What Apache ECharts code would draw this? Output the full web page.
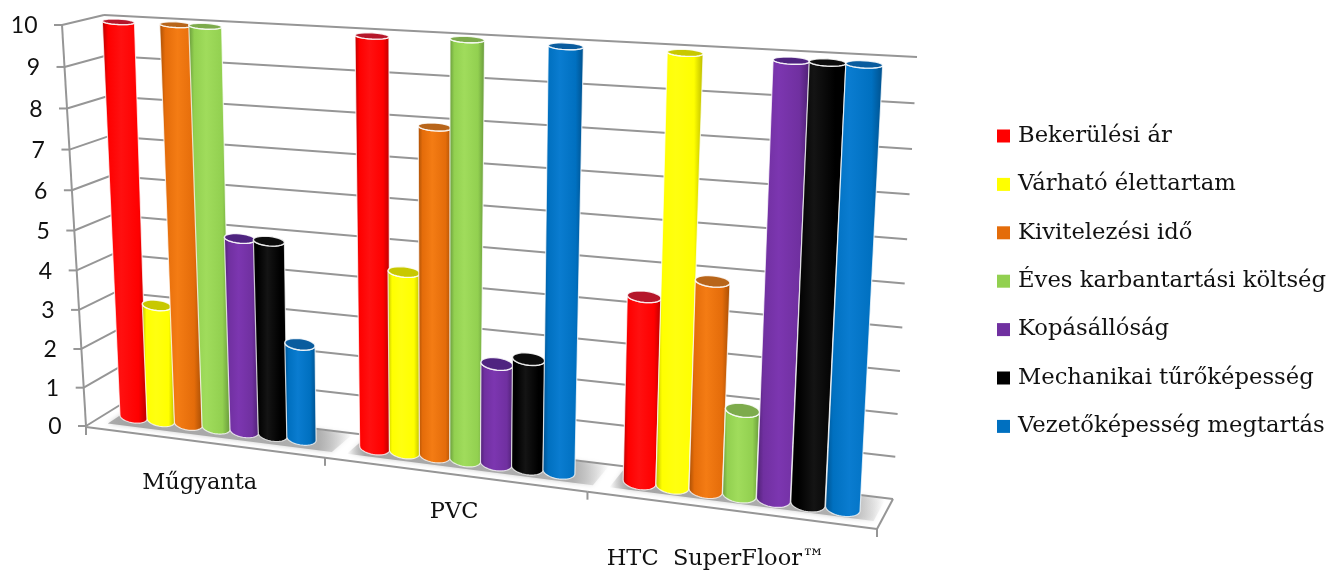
<!DOCTYPE html>
<html><head><meta charset="utf-8">
<style>html,body{margin:0;padding:0;background:#fff}#c{width:1330px;height:572px}</style>
<script src="https://cdn.jsdelivr.net/npm/echarts@6/dist/echarts.min.js"></script>
</head><body><div id="c"></div>
<script>
const categories = ['Műgyanta', 'PVC', 'HTC  SuperFloor™'];
const yTicks = [0,1,2,3,4,5,6,7,8,9,10];
const seriesNames = ['Bekerülési ár','Várható élettartam','Kivitelezési idő','Éves karbantartási költség','Kopásállóság','Mechanikai tűrőképesség','Vezetőképesség megtartás'];
const bekerulesi = [10, 9.97, 4.4];
const varhato = [3, 4.45, 9.95];
const kivitelezesi = [10, 7.95, 4.9];
const eves = [10, 10, 2];
const kopas = [4.9, 2.45, 9.9];
const mechanikai = [4.9, 2.65, 9.9];
const vezeto = [2.4, 9.96, 9.9];
const seriesValues = [bekerulesi, varhato, kivitelezesi, eves, kopas, mechanikai, vezeto];
const colors = ['#ff0000','#ffff00','#e46c0a','#92d050','#7030a0','#000000','#0070c0'];
const edgeColors = ['#b30000','#b8b800','#a34c05','#64943a','#4c1f70','#000000','#004f8a'];
const lightColors = ['#ff1010','#ffff10','#f47c14','#a0dc5c','#7c36b0','#141414','#0a7cd0'];
const capColors = ['#b5162a','#c8c800','#b8651a','#7dab4c','#4f2480','#0c0c0c','#0a5c9e'];

// perspective frame (projection constants)
const K_U = 0.134, K_W = 0.049;
const warpU = t => t*(1-K_U)/(1-K_U*t);
const warpW = w => w*(1-K_W)/(1-K_W*w);
function bil(q, a, b){
  const x = (1-b)*((1-a)*q[0][0]+a*q[1][0]) + b*((1-a)*q[3][0]+a*q[2][0]);
  const y = (1-b)*((1-a)*q[0][1]+a*q[1][1]) + b*((1-a)*q[3][1]+a*q[2][1]);
  return [x,y];
}
const planeQ = [[100,412.5],[887,514],[911,62],[83,20]];
const backQ  = [[120,405],[893,499],[917,57],[104,15]];
const sideQ  = [[86,426],[120,405],[104,15],[62,25]];
const floorQ = [[86,427],[877,529],[893,499],[120,405]];
const plane = (t,w) => bil(planeQ, warpU(t), warpW(w));
const back  = (a,w) => bil(backQ, a, warpW(w));
const side  = (d,w) => bil(sideQ, d, warpW(w));
const floorP = (t,d) => bil(floorQ, warpU(t), d);

const GRID = {left:100, top:20, width:787, height:400};
const GAP_HALF = 0.75, SLOTS = 8.5;
const GRAY = '#969696';
const SERIF = '"DejaVu Serif"';

function norm(api, params, cat, v, offset){
  const cs = params.coordSys;
  const p = api.coord([cat, v]);
  const bw = api.size([1,0])[0];
  return {t:(p[0]-bw/2+offset*bw-cs.x)/cs.width, w:(cs.y+cs.height-p[1])/cs.height};
}
function line(a,b,width){
  return {type:'line', shape:{x1:a[0],y1:a[1],x2:b[0],y2:b[1]}, style:{stroke:GRAY,lineWidth:width||2}};
}
function cylinderItem(si){
  return function(params, api){
    const cat = api.value(0), val = api.value(1);
    const off = (GAP_HALF+0.5+si)/SLOTS;
    const a = norm(api, params, cat, val, off);
    const b = norm(api, params, cat, 0, off);
    const hw = w => { const l=13.6+(17.6-13.6)*a.t, h=16+(18.6-16)*a.t; return l+(h-l)*w; };
    const ry = w => (7-3.8*w)*(0.85+0.3*a.t);
    function ell(w, from, to){
      const c = plane(a.t, w), e = plane(a.t+0.01, w);
      let dx=e[0]-c[0], dy=e[1]-c[1]; const L=Math.hypot(dx,dy); dx/=L; dy/=L;
      const pts=[], R=hw(w), r=ry(w);
      for(let i=0;i<=28;i++){
        const th=from+(to-from)*i/28;
        pts.push([c[0]+R*Math.cos(th)*dx, c[1]+R*Math.cos(th)*dy+r*Math.sin(th)]);
      }
      return pts;
    }
    const topBack = ell(a.w, Math.PI, 0);
    const botFront = ell(b.w, 0, Math.PI);
    const body = topBack.concat(botFront);
    const cap = ell(a.w, 0, Math.PI*2);
    const fill = new echarts.graphic.LinearGradient(0,0,1,0,[
      {offset:0,color:edgeColors[si]},{offset:0.14,color:colors[si]},
      {offset:0.42,color:lightColors[si]},{offset:0.8,color:colors[si]},{offset:1,color:edgeColors[si]}]);
    return {type:'group', children:[
      {type:'polygon', shape:{points:body}, style:{fill:fill, stroke:'rgba(255,255,255,0.75)', lineWidth:1.2}},
      {type:'polygon', shape:{points:cap}, style:{fill:capColors[si], stroke:'rgba(255,255,255,0.85)', lineWidth:1.4}}
    ]};
  };
}
const labelNudge = [[-3,41],[1,38],[-13,49]];
function floorItem(params, api){
  const cat = api.value(0);
  const t0 = norm(api, params, cat, 0, 0).t, t1 = norm(api, params, cat, 0, 1).t, tm=(t0+t1)/2;
  const end = t1+(cat===2?-0.008:0);
  const shadow = [floorP(t0+0.02,0.24), floorP(end,0.24), floorP(end,0.98), floorP(t0+0.02,0.98)];
  const a = floorP(t0,0), b = floorP(t1,0), m = floorP(tm,0);
  const grad = new echarts.graphic.LinearGradient(0,0,1,0,[
    {offset:0,color:'rgba(165,165,165,'+(cat===0?0.9:0)+')'},{offset:0.07,color:'rgba(165,165,165,1)'},
    {offset:0.86,color:'rgba(175,175,175,1)'},{offset:1,color:'rgba(200,200,200,0)'}]);
  const kids = [
    {type:'polygon', shape:{points:shadow}, style:{fill:grad, shadowBlur:5, shadowColor:'rgba(170,170,170,0.6)'}},
    line(a,b),
    line(b,[b[0],b[1]+8])
  ];
  if(cat===0) kids.push(line(a,[a[0],a[1]+8]));
  if(cat===2) kids.push(line(b,floorQ[2]));
  kids.push({type:'text', style:{text:categories[cat], x:m[0]+labelNudge[cat][0], y:m[1]+labelNudge[cat][1],
    align:'center', verticalAlign:'middle', font:'22.5px '+SERIF, fill:'#111'}});
  return {type:'group', children:kids};
}
function wallItem(params, api){
  const v = api.value(1);
  const n = norm(api, params, 0, v, 0);
  const f = side(0,n.w), bk = side(1,n.w), b0 = back(0,n.w), b1 = back(1,n.w);
  const kids = [line(b0,b1), line(f,bk), line(f,[f[0]-8,f[1]])];
  kids.push({type:'text', style:{text:String(v), x:f[0]-24.5, y:f[1]+1, align:'right', verticalAlign:'middle',
    font:'23px Lato', fill:'#111'}});
  return {type:'group', children:kids};
}
function axisEdges(params, api){
  const top = norm(api, params, 0, 10, 0), bot = norm(api, params, 0, 0, 0);
  return line(side(0,top.w), side(0,bot.w));
}
const series = [
  {name:'floor', type:'custom', renderItem:floorItem, silent:true, encode:{x:0,y:1}, data:categories.map((c,i)=>[i,0]), z:1},
  {name:'walls', type:'custom', renderItem:wallItem, silent:true, encode:{x:0,y:1}, data:yTicks.map(v=>[0,v]), z:2},
  {name:'axisLine', type:'custom', renderItem:axisEdges, silent:true, encode:{x:0,y:1}, data:[[0,0]], z:2}
];
seriesNames.forEach((name,si)=>{
  series.push({name, type:'custom', renderItem:cylinderItem(si), encode:{x:0,y:1},
    itemStyle:{color:colors[si]}, z:3+si,
    data:seriesValues[si].map((v,i)=>[i,v])});
});
const chart = echarts.init(document.getElementById('c'), null, {renderer:'canvas'});
chart.setOption({
  animation:false,
  backgroundColor:'#fff',
  grid:GRID,
  xAxis:{type:'category', data:categories, show:false},
  yAxis:{type:'value', min:0, max:10, interval:1, show:false},
  legend:{orient:'vertical', left:997, top:124, padding:0, data:seriesNames, icon:'rect', itemWidth:13, itemHeight:13, itemGap:24.4,
    selectedMode:false, textStyle:{fontFamily:'DejaVu Serif', fontSize:22.7, color:'#111', lineHeight:24, padding:[0,0,0,3]}},
  series
});
</script></body></html>
